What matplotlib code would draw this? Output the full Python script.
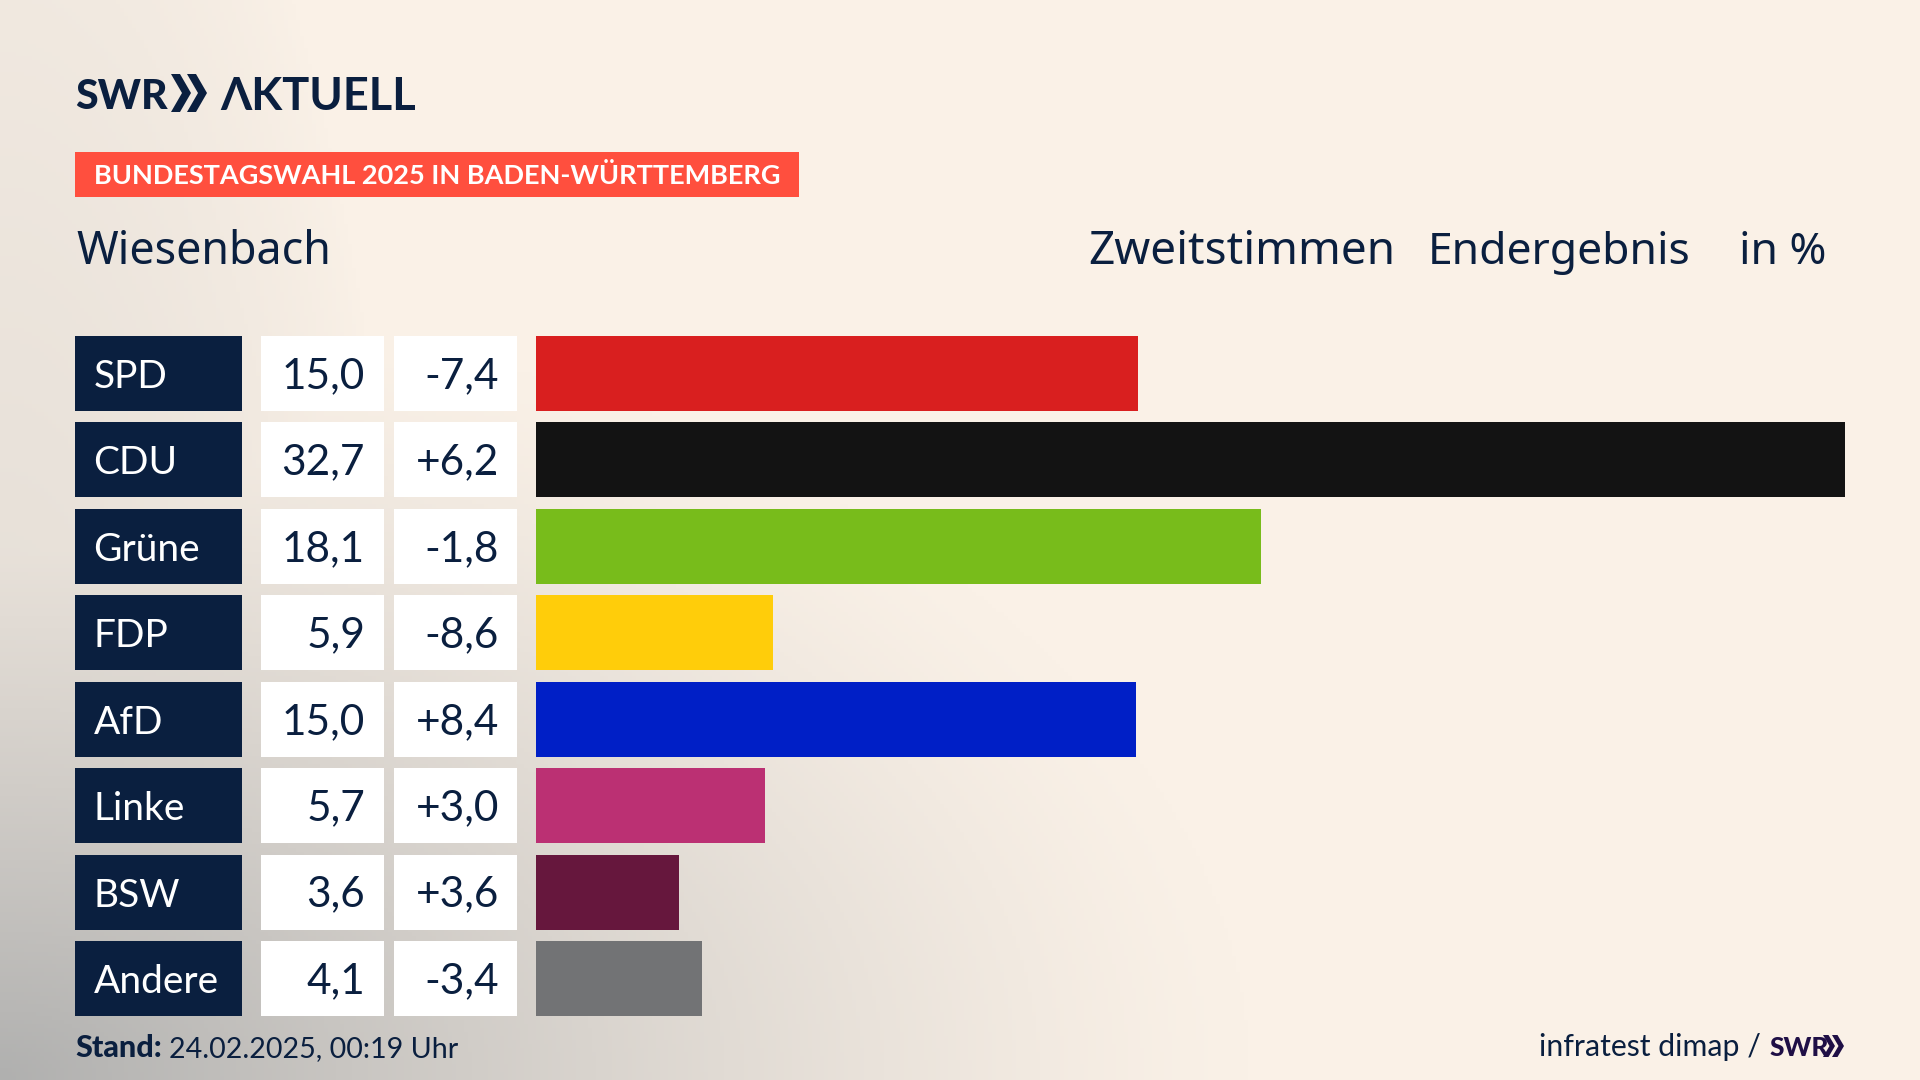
import matplotlib
matplotlib.use("Agg")
import matplotlib.pyplot as plt
import numpy as np

parties = ["SPD", "CDU", "Grüne", "FDP", "AfD", "Linke", "BSW", "Andere"]
shares = [15.04, 32.7, 18.1, 5.92, 14.99, 5.72, 3.58, 4.14]
share_labels = ["15,0", "32,7", "18,1", "5,9", "15,0", "5,7", "3,6", "4,1"]
diff_labels = ["-7,4", "+6,2", "-1,8", "-8,6", "+8,4", "+3,0", "+3,6", "-3,4"]
colors = ["#D91F1F", "#131313", "#78BC1B", "#FFCD0A", "#001FC6", "#BB3073", "#66173D", "#727375"]

NAVY = "#0A1F3F"
FONT = ["Lato", "DejaVu Sans"]
HEAD_FONT = ["Noto Sans", "DejaVu Sans"]
plt.rcParams["font.family"] = FONT

fig = plt.figure(figsize=(19.2, 10.8), dpi=100)

# page in pixel coordinates
page = fig.add_axes([0, 0, 1, 1])
page.set_xlim(0, 1920)
page.set_ylim(1080, 0)
page.axis("off")

# background, beige with a grey shade from the lower left corner
xx, yy = np.meshgrid(np.linspace(0, 1920, 480), np.linspace(0, 1080, 270))
d1 = np.sqrt((xx / 1250) ** 2 + ((1080 - yy) / 780) ** 2)
d2 = np.sqrt((xx / 420) ** 2 + ((1080 - yy) / 1500) ** 2)
shade = np.clip(1 - d1, 0, 1) ** 1.25
shade = np.maximum(shade, 0.35 * np.clip(1 - d2, 0, 1) ** 0.8)
beige = np.array([250, 241, 231]) / 255
grey = np.array([176, 176, 175]) / 255
bg = beige + (grey - beige) * shade[..., None]
page.imshow(bg, extent=(0, 1920, 1080, 0), aspect="auto", zorder=0)


def chevrons(x, top, bottom, w, arm, gap, color):
    mid = (top + bottom) / 2
    for k in range(2):
        x0 = x + k * gap
        page.fill([x0, x0 + arm, x0 + w, x0 + arm, x0, x0 + w - arm],
                  [top, top, mid, bottom, bottom, mid],
                  color=color, lw=0, zorder=3)


# logo
page.text(75, 109, "SWR", fontsize=29.5, fontweight="black", color=NAVY, va="baseline")
chevrons(171, 74, 112, 20, 9, 16, NAVY)
page.text(220, 110, "ΛKTUELL", fontsize=32.5, fontweight="bold", color=NAVY, va="baseline")

# banner
page.fill([75, 799, 799, 75], [152, 152, 197, 197], color="#FF4F3E", lw=0, zorder=2)
page.text(94, 184, "BUNDESTAGSWAHL 2025 IN BADEN-WÜRTTEMBERG", fontsize=19.55, fontweight="bold",
          color="white", va="baseline", zorder=3)

# header line
page.text(76, 264, "Wiesenbach", fontsize=32.3, color=NAVY, va="baseline", family=HEAD_FONT)
page.text(1088, 264, "Zweitstimmen", fontsize=33, color=NAVY, va="baseline", family=HEAD_FONT)
page.text(1428, 264, "Endergebnis", fontsize=32, color=NAVY, va="baseline", family=HEAD_FONT)
page.text(1739, 264, "in %", fontsize=32, color=NAVY, va="baseline", family=HEAD_FONT)

# footer
page.text(75, 1057, "Stand:", fontsize=22, fontweight="black", color=NAVY, va="baseline")
page.text(169, 1057, "24.02.2025, 00:19 Uhr", fontsize=20.6, color=NAVY, va="baseline")
page.text(1539, 1056, "infratest dimap /", fontsize=21.8, color=NAVY, va="baseline")
page.text(1769, 1056, "SWR", fontsize=19, fontweight="black", color="#1F0F46", va="baseline")
chevrons(1823, 1035, 1057, 12, 5.5, 9, "#1F0F46")

# table rows, one axes per column, all sharing the row scale
ROW_TOP, ROW_BOTTOM = 336, 1016
BAR_H = 75 / 86.43
BASE = 14.5 / 86.43


def column(left, right, xmax=None):
    ax = fig.add_axes([left / 1920, 1 - ROW_BOTTOM / 1080, (right - left) / 1920, (ROW_BOTTOM - ROW_TOP) / 1080])
    ax.set_xlim(0, right - left if xmax is None else xmax)
    ax.set_ylim(len(parties) - 1 + BAR_H / 2, -BAR_H / 2)
    ax.axis("off")
    ax.patch.set_alpha(0)
    return ax


rows = np.arange(len(parties))

ax_name = column(75, 242)
ax_name.barh(rows, 167, height=BAR_H, color=NAVY)
ax_share = column(261, 384)
ax_share.barh(rows, 123, height=BAR_H, color="white")
ax_diff = column(394, 517)
ax_diff.barh(rows, 123, height=BAR_H, color="white")

for i in rows:
    ax_name.text(18.5, i + BASE, parties[i], fontsize=28, color="white", va="baseline")
    ax_share.text(104, i + BASE, share_labels[i], fontsize=30.5, color=NAVY, va="baseline", ha="right")
    ax_diff.text(105, i + BASE, diff_labels[i], fontsize=30.5, color=NAVY, va="baseline", ha="right")

ax_bar = column(536, 1845, xmax=max(shares))
ax_bar.barh(rows, shares, height=BAR_H, color=colors)

fig.savefig("out.png", dpi=100)
